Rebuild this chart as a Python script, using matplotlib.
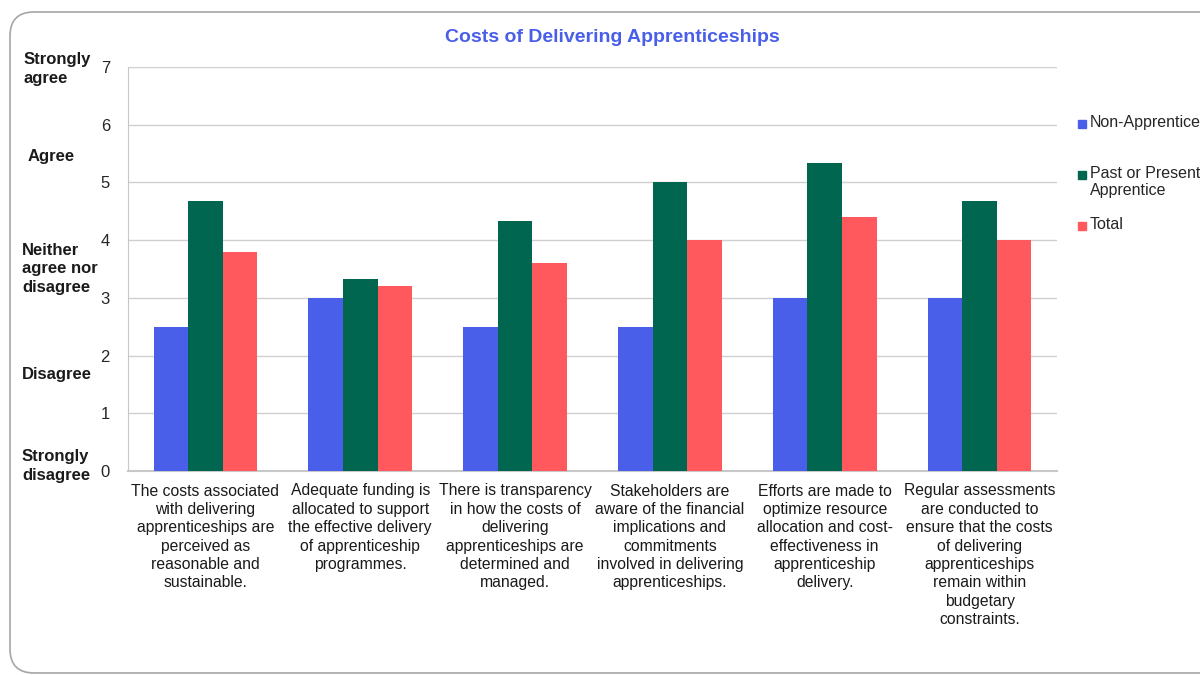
import matplotlib.pyplot as plt
import numpy as np
from matplotlib.patches import FancyBboxPatch, Rectangle

plt.rcParams['font.family'] = ['Liberation Sans', 'DejaVu Sans']

# Survey statements (wrapped as they appear under each group)
statements = [
    "The costs associated\nwith delivering\napprenticeships are\nperceived as\nreasonable and\nsustainable.",
    "Adequate funding is\nallocated to support\nthe effective delivery\nof apprenticeship\nprogrammes.",
    "There is transparency\nin how the costs of\ndelivering\napprenticeships are\ndetermined and\nmanaged.",
    "Stakeholders are\naware of the financial\nimplications and\ncommitments\ninvolved in delivering\napprenticeships.",
    "Efforts are made to\noptimize resource\nallocation and cost-\neffectiveness in\napprenticeship\ndelivery.",
    "Regular assessments\nare conducted to\nensure that the costs\nof delivering\napprenticeships\nremain within\nbudgetary\nconstraints.",
]

series_names = ["Non-Apprentice", "Past or Present\nApprentice", "Total"]
non_apprentice = [2.5, 3.0, 2.5, 2.5, 3.0, 3.0]
past_present = [4.67, 3.33, 4.33, 5.0, 5.33, 4.67]
total = [3.8, 3.2, 3.6, 4.0, 4.4, 4.0]

scale_labels = ["Strongly\nagree", "Agree", "Neither\nagree nor\ndisagree", "Disagree", "Strongly\ndisagree"]
yticks = [0, 1, 2, 3, 4, 5, 6, 7]

colors = ["#4A5FE9", "#00664F", "#FF585D"]

W, H = 1200, 675
fig = plt.figure(figsize=(12, 6.75), dpi=100)

# rounded frame around the chart
frame = FancyBboxPatch((10 / W, 0.003), 1.2, 1 - 12 / H - 0.003,
                       boxstyle="round,pad=0,rounding_size=0.02",
                       transform=fig.transFigure, fill=False,
                       edgecolor="#A6A6A6", linewidth=1.2, mutation_aspect=W / H)
fig.patches.append(frame)

ax = fig.add_axes([128 / W, 1 - 471 / H, (1057 - 128) / W, (471 - 67) / H])

x = np.arange(len(statements))
bw = 0.223
for i, vals in enumerate([non_apprentice, past_present, total]):
    ax.bar(x + (i - 1) * bw, vals, width=bw, color=colors[i], zorder=3)

ax.set_xlim(-0.5, len(statements) - 0.5)
ax.set_ylim(0, 7)
ax.set_yticks(yticks)
ax.set_yticklabels([str(t) for t in yticks], fontsize=12, color="#262626")
ax.set_xticks(x)
ax.set_xticklabels(statements, fontsize=11.3, color="#1a1a1a", linespacing=1.28, va="top")
ax.tick_params(axis="both", length=0)
ax.tick_params(axis="x", pad=9)
ax.tick_params(axis="y", pad=13)
ax.grid(axis="y", color="#D0D0D0", linewidth=1, zorder=0)
for s in ["top", "right"]:
    ax.spines[s].set_visible(False)
ax.spines["left"].set_color("#C8C8C8")
ax.spines["bottom"].set_color("#C8C8C8")
ax.spines["bottom"].set_linewidth(1.5)

fig.text(612 / W, 1 - 37 / H, "Costs of Delivering Apprenticeships", ha="center", va="center",
         fontsize=14, fontweight="bold", color="#4A5FE9")

# agreement scale next to the numeric axis
scale_pos = [(24, 69), (28, 157), (22, 269), (22, 375), (22, 466)]
for lab, (px, py) in zip(scale_labels, scale_pos):
    fig.text(px / W, 1 - py / H, lab, ha="left", va="center", fontsize=12,
             fontweight="bold", color="#1a1a1a", linespacing=1.3)

# legend on the right
legend_tops = [124, 175, 226]
for name, c, py in zip(series_names, colors, legend_tops):
    fig.patches.append(Rectangle((1078 / W, 1 - (py + 4) / H), 8 / W, 8 / H,
                                 transform=fig.transFigure, color=c))
    fig.text(1090 / W, 1 - (py - 9) / H, name, ha="left", va="top", fontsize=11.5,
             color="#262626", linespacing=1.15)

fig.savefig("out.png", dpi=100)
